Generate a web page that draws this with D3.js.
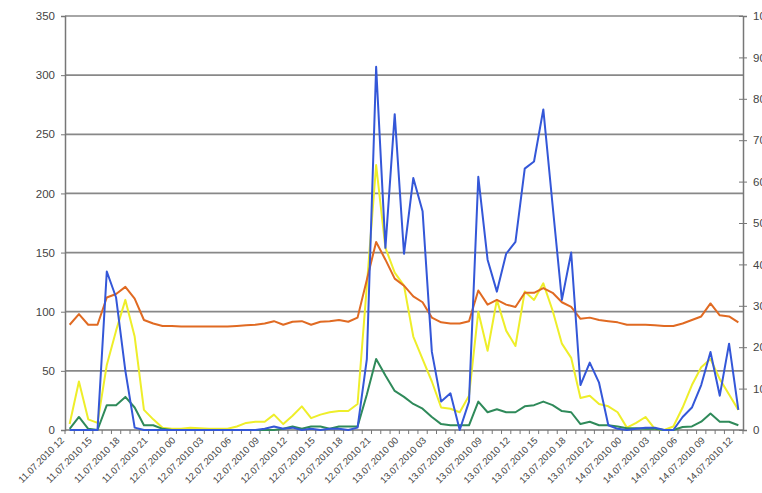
<!DOCTYPE html>
<html>
<head>
<meta charset="utf-8">
<script src="https://cdn.jsdelivr.net/npm/d3@7"></script>
<style>
  body { margin: 0; background: #fff; }
  text { font-family: "Liberation Sans", Arial, sans-serif; }
</style>
</head>
<body>
<div id="chart"></div>
<script>
// hourly categories 11.07.2010 12:00 -> 14.07.2010 12:00
const hours = d3.timeHour.range(new Date(2010, 6, 11, 12), new Date(2010, 6, 14, 13));

const tickLabels = [
  "11.07.2010 12", "11.07.2010 15", "11.07.2010 18", "11.07.2010 21",
  "12.07.2010 00", "12.07.2010 03", "12.07.2010 06", "12.07.2010 09",
  "12.07.2010 12", "12.07.2010 15", "12.07.2010 18", "12.07.2010 21",
  "13.07.2010 00", "13.07.2010 03", "13.07.2010 06", "13.07.2010 09",
  "13.07.2010 12", "13.07.2010 15", "13.07.2010 18", "13.07.2010 21",
  "14.07.2010 00", "14.07.2010 03", "14.07.2010 06", "14.07.2010 09",
  "14.07.2010 12"
];

const leftTicks = [0, 50, 100, 150, 200, 250, 300, 350];
const rightTicks = [0, 10, 20, 30, 40, 50, 60, 70, 80, 90, 100];

const yellowSeries = [
  5, 41, 9, 6, 55, 84, 110, 79, 17, 9, 2, 1,
  1, 2, 1.5, 1, 1, 1, 3, 6, 7, 7, 13, 5,
  12, 20, 10, 13, 15, 16, 16, 22, 122, 224, 154, 133,
  122, 79, 60, 41, 19, 18, 15, 29, 100, 67, 110, 84,
  71, 117, 110, 124, 101, 73, 61, 27, 29, 22, 20, 15,
  2, 6, 11, 1, 0, 3, 19, 38, 53, 60, 43, 30,
  17
];

const greenSeries = [
  1, 11, 1, 0, 21, 21, 28, 19, 4, 4, 1, 0,
  0, 0, 0, 0, 0, 0, 0, 0, 0, 0, 0, 1,
  3, 1, 3, 3, 1, 3, 3, 3, 30, 60, 46, 33,
  28, 22, 18, 11, 5, 4, 4, 4, 24, 15, 17.5, 15,
  15, 20, 21, 24, 21, 16, 15, 5, 7, 4, 4, 3,
  1.5, 1.5, 1, 1, 0, 0, 2.5, 3, 7, 14, 7, 7,
  4
];

const orangeSeries = [
  89, 98, 89, 89, 112, 115, 121, 111, 93, 90, 88, 88,
  87.5, 87.5, 87.5, 87.5, 87.5, 87.5, 88, 88.5, 89, 90, 92, 89,
  91.5, 92, 89, 91.5, 92, 93, 91.5, 95, 127, 159, 144, 128,
  122, 113, 108, 95, 91, 90, 90, 92, 118, 106, 110, 106,
  104, 116, 116, 120, 116, 108, 104, 94, 95, 93, 92, 91,
  89, 89, 89, 88.5, 88, 88, 90, 93, 96, 107, 97, 96,
  91
];

const blueSeries = [
  0, 0, 0, 0, 134, 112, 50, 2, 0, 0, 0, 0,
  0, 0, 0, 0, 0, 0, 0, 0, 0, 1, 3, 1,
  2, 0, 1, 0, 1, 1, 0, 2, 60, 307, 154, 267,
  149, 213, 185, 66, 24, 31, 0, 24, 214, 144, 117, 149,
  159, 221, 227, 271, 190, 110, 150, 38, 57, 40, 4, 1,
  0, 1, 2, 2, 0, 0, 11, 19, 38, 66, 29, 73,
  17
];

const series = [
  { name: "yellow", color: "#eeee2a", values: yellowSeries },
  { name: "green", color: "#2f8a5a", values: greenSeries },
  { name: "orange", color: "#e06a22", values: orangeSeries },
  { name: "blue", color: "#3457d8", values: blueSeries }
];

const W = 762, H = 493;
const margin = { top: 16, right: 19, bottom: 63, left: 65 };
const innerW = W - margin.left - margin.right;
const innerH = H - margin.top - margin.bottom;

const svg = d3.select("#chart").append("svg")
  .attr("width", W)
  .attr("height", H);

const g = svg.append("g").attr("transform", `translate(${margin.left},${margin.top})`);

const x = d3.scaleBand()
  .domain(d3.range(hours.length))
  .range([0, innerW]);

const y = d3.scaleLinear().domain([0, 350]).range([innerH, 0]);
const y2 = d3.scaleLinear().domain([0, 100]).range([innerH, 0]);

// gridlines
g.append("g")
  .selectAll("line")
  .data(leftTicks.filter(d => d > 0))
  .enter().append("line")
  .attr("x1", 0)
  .attr("x2", innerW)
  .attr("y1", d => y(d))
  .attr("y2", d => y(d))
  .attr("stroke", "#888")
  .attr("stroke-width", 1.7);

// left axis
g.append("g")
  .call(d3.axisLeft(y).tickValues(leftTicks).tickSize(4).tickPadding(6))
  .call(a => a.select(".domain").attr("stroke", "#777").attr("stroke-width", 1.5))
  .call(a => a.selectAll(".tick line").attr("stroke", "#777"))
  .call(a => a.selectAll("text").style("font-size", "11.5px").attr("fill", "#444"));

// right axis (ticks cross the axis line)
g.append("g")
  .attr("transform", `translate(${innerW},0)`)
  .call(d3.axisRight(y2).tickValues(rightTicks).tickSize(4).tickPadding(6))
  .call(a => a.select(".domain").attr("stroke", "#777").attr("stroke-width", 1.5))
  .call(a => a.selectAll(".tick line").attr("x1", -4).attr("stroke", "#777"))
  .call(a => a.selectAll("text").style("font-size", "11.5px").attr("fill", "#444"));

// bottom axis line and hourly ticks
const bottom = g.append("g").attr("transform", `translate(0,${innerH})`);
bottom.append("line")
  .attr("x1", 0).attr("x2", innerW)
  .attr("stroke", "#777").attr("stroke-width", 1.5);
bottom.selectAll(".minor")
  .data(d3.range(hours.length + 1))
  .enter().append("line")
  .attr("class", "minor")
  .attr("x1", d => d * x.step())
  .attr("x2", d => d * x.step())
  .attr("y1", 0).attr("y2", 4)
  .attr("stroke", "#777");

// rotated labels every 3 hours
bottom.selectAll(".xlab")
  .data(tickLabels)
  .enter().append("text")
  .attr("class", "xlab")
  .attr("transform", (d, i) => `translate(${x(i * 3) + x.bandwidth() / 2 - 5},11) rotate(-45)`)
  .attr("text-anchor", "end")
  .style("font-size", "9.5px")
  .attr("fill", "#444")
  .text(d => d);

// lines
const line = d3.line()
  .x((d, i) => x(i) + x.bandwidth() / 2)
  .y(d => y(d));

g.selectAll(".series")
  .data(series)
  .enter().append("path")
  .attr("class", "series")
  .attr("fill", "none")
  .attr("stroke", d => d.color)
  .attr("stroke-width", 2)
  .attr("stroke-linejoin", "round")
  .attr("d", d => line(d.values));
</script>
</body>
</html>
